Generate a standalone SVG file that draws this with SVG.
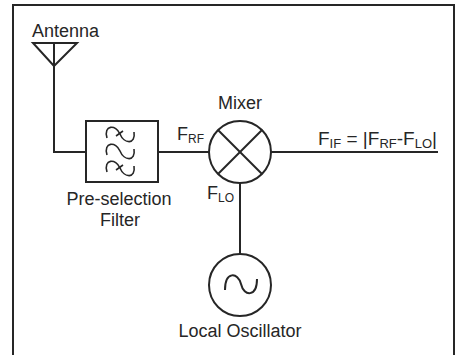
<svg xmlns="http://www.w3.org/2000/svg" width="457" height="355" viewBox="0 0 457 355">
<style>
.ln{fill:none;stroke:#262626;stroke-width:2}
.th{fill:none;stroke:#262626;stroke-width:1.6}
text{font-family:"Liberation Sans",Arial,sans-serif;fill:#262626;font-size:18px}
.sub{font-size:12px}
.f{font-size:19px}
.f .sub{font-size:13px}
</style>
<rect width="457" height="355" fill="#fff"/>
<rect x="13" y="5" width="441" height="370" class="ln"/>
<g id="connectors">
<polyline class="ln" points="54,43 54,152 86,152"/>
<line class="ln" x1="158" y1="152" x2="209" y2="152"/>
<line class="ln" x1="240" y1="183" x2="240" y2="254"/>
<line class="ln" x1="271" y1="152" x2="438" y2="152"/>
</g>
<g id="antenna">
<polygon class="ln" points="33,43 77,43 54,66"/>
<text x="32" y="37">Antenna</text>
</g>
<g id="filter">
<rect class="ln" x="86" y="121" width="72" height="61"/>
<path class="th" d="M107,138 C103,125 116,124 120,134 C124,144 136,145 134,132"/>
<path class="th" d="M107,155 C103,142 116,141 120,151 C124,161 136,162 134,149"/>
<path class="th" d="M107,172 C103,159 116,158 120,168 C124,178 136,179 134,166"/>
<line class="th" x1="116" y1="136" x2="123" y2="131"/>
<line class="th" x1="116" y1="170" x2="123" y2="165"/>
<text x="119" y="205" text-anchor="middle">Pre-selection</text>
<text x="120" y="226" text-anchor="middle">Filter</text>
</g>
<g id="mixer">
<circle class="ln" cx="240" cy="152" r="31"/>
<line class="ln" x1="218" y1="130" x2="262" y2="174"/>
<line class="ln" x1="262" y1="130" x2="218" y2="174"/>
<text x="240" y="109" text-anchor="middle">Mixer</text>
<text x="177" y="140">F<tspan class="sub" dy="3">RF</tspan></text>
<text x="207" y="199">F<tspan class="sub" dy="3">LO</tspan></text>
</g>
<g id="oscillator">
<circle class="ln" cx="240" cy="285" r="31"/>
<path class="ln" d="M225,290 C225,271 238,272 241,284 C244,297 257,297 257,279"/>
<text x="240" y="337" text-anchor="middle">Local Oscillator</text>
</g>
<g id="output">
<text class="f" x="318" y="145">F<tspan class="sub" dy="3">IF</tspan><tspan dy="-3"> = |F</tspan><tspan class="sub" dy="3">RF</tspan><tspan dy="-3">-F</tspan><tspan class="sub" dy="3">LO</tspan><tspan dy="-3">|</tspan></text>
</g>
</svg>
